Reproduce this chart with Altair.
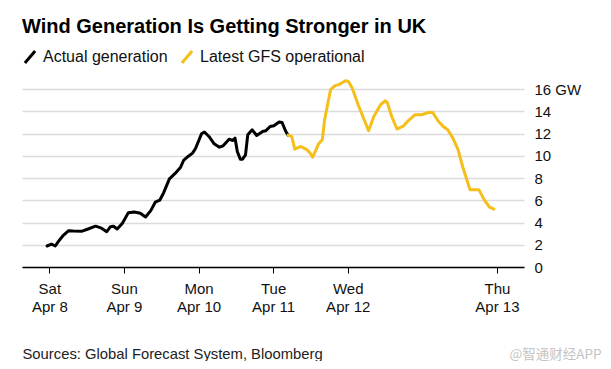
import altair as alt
import pandas as pd

# ---- data (x in days since Sat Apr 8, y in GW) ----
actual_x = [-0.03, 0.03, 0.08, 0.12, 0.18, 0.26, 0.32, 0.44, 0.52, 0.62, 0.70, 0.77, 0.82, 0.86, 0.91,
            0.98, 1.06, 1.14, 1.22, 1.29, 1.36, 1.42, 1.48, 1.53, 1.61, 1.69, 1.76, 1.80, 1.86, 1.92,
            1.96, 2.04, 2.08, 2.14, 2.21, 2.28, 2.33, 2.41, 2.46, 2.49, 2.52, 2.56, 2.59, 2.63, 2.66,
            2.72, 2.78, 2.86, 2.90, 2.96, 3.01, 3.08, 3.12, 3.17, 3.20]
actual_y = [1.89, 2.05, 1.89, 2.28, 2.79, 3.27, 3.24, 3.22, 3.42, 3.67, 3.49, 3.18, 3.63, 3.67, 3.42,
            3.94, 4.89, 4.95, 4.84, 4.50, 5.07, 5.83, 6.01, 6.64, 7.93, 8.44, 8.98, 9.58, 9.94, 10.24,
            10.66, 11.98, 12.14, 11.74, 11.08, 10.78, 10.90, 11.50, 11.38, 11.59, 10.39, 9.70, 9.70, 10.09, 11.89,
            12.34, 11.83, 12.19, 12.25, 12.64, 12.70, 13.04, 13.00, 12.19, 11.86]

forecast_x = [3.20, 3.25, 3.29, 3.37, 3.44, 3.49, 3.53, 3.61, 3.66, 3.69, 3.77, 3.83, 3.88, 3.92, 3.97,
              4.01, 4.06, 4.14, 4.23, 4.28, 4.35, 4.44, 4.50, 4.53, 4.59, 4.66, 4.75, 4.81, 4.90, 4.99,
              5.08, 5.14, 5.21, 5.28, 5.34, 5.41, 5.48, 5.54, 5.64, 5.76, 5.83, 5.90, 5.96]
forecast_y = [11.86, 11.74, 10.60, 10.84, 10.60, 10.30, 9.88, 11.08, 11.44, 13.24, 15.95, 16.31, 16.40, 16.55, 16.76,
              16.69, 16.10, 14.59, 13.09, 12.25, 13.54, 14.59, 14.95, 14.80, 13.54, 12.41, 12.70, 13.15, 13.69, 13.69,
              13.90, 13.90, 13.15, 12.64, 12.34, 11.59, 10.54, 9.04, 6.94, 6.94, 6.04, 5.38, 5.20]

series_names = ["Actual generation", "Latest GFS operational"]
series_colors = ["#000000", "#f5be19"]

day_ticks = [0, 1, 2, 3, 4, 6]
day_labels = [["Sat", "Apr 8"], ["Sun", "Apr 9"], ["Mon", "Apr 10"],
              ["Tue", "Apr 11"], ["Wed", "Apr 12"], ["Thu", "Apr 13"]]
y_ticks = [0, 2, 4, 6, 8, 10, 12, 14, 16]

title_text = "Wind Generation Is Getting Stronger in UK"
source_text = "Sources: Global Forecast System, Bloomberg"
watermark_text = "@智通财经APP"

# ---- build table ----
rows = []
for i, (x, y) in enumerate(zip(actual_x, actual_y)):
    rows.append({"x": x, "y": y, "series": series_names[0], "o": i})
for i, (x, y) in enumerate(zip(forecast_x, forecast_y)):
    rows.append({"x": x, "y": y, "series": series_names[1], "o": i})
df = pd.DataFrame(rows)

label_expr = ""
for v, lab in zip(day_ticks, day_labels):
    label_expr += f"datum.value == {v} ? ['{lab[0]}', '{lab[1]}'] : "
label_expr += "''"

FONT = "Liberation Sans"

chart = alt.Chart(df).mark_line(strokeWidth=3, strokeJoin="round", strokeCap="round").encode(
    x=alt.X("x:Q",
            scale=alt.Scale(domain=[-0.366, 6.363], nice=False, zero=False),
            axis=alt.Axis(values=day_ticks, labelExpr=label_expr, grid=False,
                          domainColor="#000000", domainWidth=1.5, tickColor="#000000",
                          tickWidth=1, tickSize=6, labelFontSize=15, labelColor="#111111",
                          labelLineHeight=18.5, labelPadding=8, labelFont=FONT,
                          zindex=2,
                          title=source_text, titleFont=FONT, titleFontSize=14.8,
                          titleFontWeight="normal", titleColor="#222222",
                          titleAnchor="start", titleAlign="left", titleX=0, titleY=91,
                          titleBaseline="alphabetic")),
    y=alt.Y("y:Q",
            scale=alt.Scale(domain=[0, 17], nice=False),
            axis=alt.Axis(orient="right", values=y_ticks,
                          labelExpr="datum.value == 16 ? '16 GW' : datum.label",
                          grid=True, gridColor="#dcdcdc", gridWidth=1.5,
                          domain=False, ticks=False, labelPadding=10, labelAlign="left",
                          labelFontSize=15, labelColor="#111111", labelFont=FONT,
                          title=watermark_text, titleAngle=0, titleFont="Noto Sans CJK SC",
                          titleFontSize=13.5, titleFontWeight="normal", titleColor="#c4c4c4",
                          titleAlign="right", titleX=77, titleY=280, titleBaseline="alphabetic")),
    color=alt.Color("series:N",
                    scale=alt.Scale(domain=series_names, range=series_colors),
                    legend=alt.Legend(orient="none", legendX=0, legendY=-29,
                                      direction="horizontal", title=None,
                                      symbolType="M-0.85,1L0.85,-1", symbolStrokeWidth=3,
                                      symbolSize=144, labelFontSize=16, labelFont=FONT,
                                      labelLimit=400,
                                      labelColor="#111111", columnPadding=7, labelOffset=5)),
    detail="series:N",
    order="o:Q",
).properties(
    width=502,
    height=189,
    title=alt.Title(title_text, anchor="start", fontSize=20, font=FONT, fontWeight="bold",
                    color="#000000", offset=12),
    autosize=alt.AutoSizeParams(type="none"),
    padding={"left": 14, "top": 70, "right": 79, "bottom": 94},
).configure_view(stroke=None)

chart.save("out.html", embed_options={"renderer": "svg", "actions": False})
